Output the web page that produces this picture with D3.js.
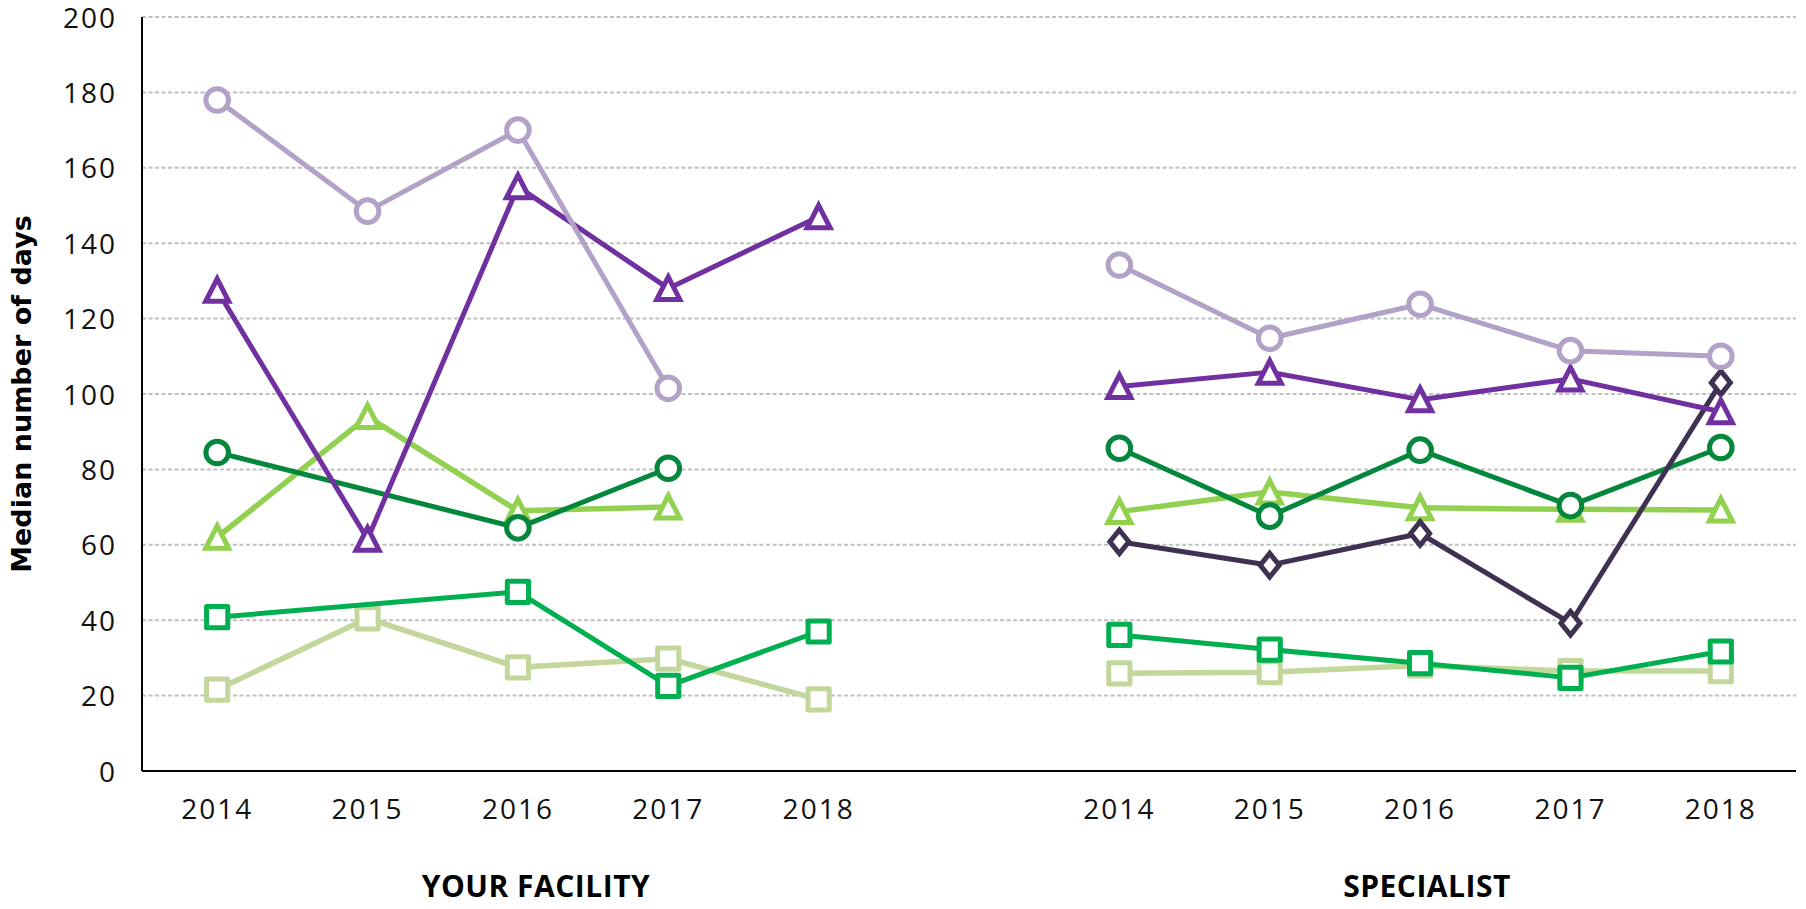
<!DOCTYPE html>
<html>
<head>
<meta charset="utf-8">
<script src="https://cdn.jsdelivr.net/npm/d3@7"></script>
<style>
  html, body { margin: 0; padding: 0; background: #fff; }
  svg { display: block; }
</style>
</head>
<body>
<svg id="chart" width="1806" height="909"></svg>
<script>
// Panels and categories
const groups = ["YOUR FACILITY", "SPECIALIST"];
const years = ["2014", "2015", "2016", "2017", "2018"];
const yTicks = [0, 20, 40, 60, 80, 100, 120, 140, 160, 180, 200];

// Median number of days, facility years first then specialist years (null = no value)
const lightPurpleCircle = [178, 148.5, 170, 101.5, null, 134.2, 114.8, 123.8, 111.5, 110];
const purpleTriangle    = [127.5, 61.5, 155, 128, 147, 102, 105.8, 98.5, 104, 95.3];
const lightGreenTri     = [62, 94, 69, 70, null, 68.8, 74, 69.8, 69.4, 69.2];
const darkGreenCircle   = [84.5, null, 64.5, 80.3, null, 85.6, 67.6, 85.1, 70.4, 85.8];
const greenSquare       = [40.8, null, 47.5, 22.6, 37, 36.1, 32.2, 28.6, 24.7, 31.7];
const paleGreenSquare   = [21.6, 40.5, 27.5, 29.8, 19, 25.9, 26.2, 28, 26.5, 26.5];
const darkDiamond       = [null, null, null, null, null, 60.8, 54.6, 63, 39.2, 103];

// Drawing order (bottom to top)
const seriesList = [
  { values: paleGreenSquare,   color: "#c3d69b", shape: "square",   width: 5.5 },
  { values: greenSquare,       color: "#00b050", shape: "square",   width: 5 },
  { values: lightGreenTri,     color: "#92d050", shape: "triangle", width: 5.5 },
  { values: darkGreenCircle,   color: "#04873c", shape: "circle",   width: 5 },
  { values: darkDiamond,       color: "#3f3151", shape: "diamond",  width: 5 },
  { values: purpleTriangle,    color: "#7030a0", shape: "triangle", width: 5 },
  { values: lightPurpleCircle, color: "#b3a2c7", shape: "circle",   width: 5 }
];

const svg = d3.select("#chart");
const plotLeft = 142, plotRight = 1796, plotTop = 17, plotBottom = 771;

// One band per year in each panel, with an empty band between the panels
const keys = [];
groups.forEach((g, gi) => {
  if (gi > 0) keys.push("gap" + gi);
  years.forEach(yr => keys.push(g + "|" + yr));
});
const x = d3.scaleBand().domain(keys).range([plotLeft, plotRight]).padding(0);
const cx = k => x(k) + x.bandwidth() / 2;
const y = d3.scaleLinear().domain([0, 200]).range([plotBottom, plotTop]);

// Gridlines
svg.append("g")
  .selectAll("line")
  .data(yTicks.filter(t => t > 0))
  .join("line")
  .attr("x1", plotLeft).attr("x2", plotRight)
  .attr("y1", d => y(d)).attr("y2", d => y(d))
  .attr("stroke", "#c0c0c0")
  .attr("stroke-width", 2)
  .attr("stroke-dasharray", "4,2.5");

// Y axis
const yAxis = svg.append("g")
  .attr("transform", `translate(${plotLeft},0)`)
  .call(d3.axisLeft(y).tickValues(yTicks).tickSize(0).tickPadding(25).tickFormat(d3.format("d")));
yAxis.select(".domain").remove();
yAxis.selectAll("text")
  .attr("font-family", "'Open Sans', sans-serif")
  .attr("font-size", 28)
  .attr("letter-spacing", 2)
  .attr("fill", "#111")
  .attr("dy", "0.36em");

// X axis labels
const xAxis = svg.append("g")
  .attr("transform", `translate(0,${plotBottom})`)
  .call(d3.axisBottom(x)
    .tickValues(keys.filter(k => !k.startsWith("gap")))
    .tickSize(0)
    .tickFormat(k => k.split("|")[1]));
xAxis.select(".domain").remove();
xAxis.selectAll("text")
  .attr("font-family", "'Open Sans', sans-serif")
  .attr("font-size", 28)
  .attr("letter-spacing", 2)
  .attr("fill", "#111")
  .attr("y", 47.5)
  .attr("dy", 0);

// Axis lines
svg.append("line")
  .attr("x1", plotLeft).attr("x2", plotLeft).attr("y1", y(200)).attr("y2", plotBottom)
  .attr("stroke", "#000").attr("stroke-width", 2);
svg.append("line")
  .attr("x1", plotLeft).attr("x2", plotRight).attr("y1", plotBottom).attr("y2", plotBottom)
  .attr("stroke", "#000").attr("stroke-width", 2);

// Panel labels
const panelCenters = [536, 1427];
svg.append("g")
  .selectAll("text")
  .data(groups)
  .join("text")
  .attr("x", (d, i) => panelCenters[i])
  .attr("y", 896.5)
  .attr("text-anchor", "middle")
  .attr("font-family", "'Open Sans', sans-serif")
  .attr("font-weight", 700)
  .attr("font-size", 30)
  .attr("letter-spacing", 0.5)
  .attr("fill", "#000")
  .text(d => d);

// Y axis title
svg.append("text")
  .attr("transform", `translate(31,${(plotTop + plotBottom) / 2}) rotate(-90)`)
  .attr("text-anchor", "middle")
  .attr("font-family", "'DejaVu Sans', sans-serif")
  .attr("font-weight", 700)
  .attr("font-size", 27)
  .attr("fill", "#000")
  .text("Median number of days");

// Marker shapes (outline only, white fill)
function markerPath(shape) {
  const p = d3.path();
  if (shape === "circle") {
    p.arc(0, 0, 11.3, 0, 2 * Math.PI);
  } else if (shape === "square") {
    p.rect(-10.6, -10.6, 21.2, 21.2);
  } else if (shape === "triangle") {
    p.moveTo(0, -11.5); p.lineTo(11.5, 11); p.lineTo(-11.5, 11); p.closePath();
  } else if (shape === "diamond") {
    p.moveTo(0, -11.8); p.lineTo(9.5, 0); p.lineTo(0, 11.8); p.lineTo(-9.5, 0); p.closePath();
  }
  return p.toString();
}

const line = d3.line().x(d => cx(d.key)).y(d => y(d.v));

seriesList.forEach(s => {
  const g = svg.append("g");
  groups.forEach((grp, gi) => {
    const pts = years.map((yr, i) => ({ key: grp + "|" + yr, v: s.values[gi * years.length + i] }))
      .filter(d => d.v != null);
    if (!pts.length) return;
    g.append("path")
      .datum(pts)
      .attr("d", line)
      .attr("fill", "none")
      .attr("stroke", s.color)
      .attr("stroke-width", s.width)
      .attr("stroke-linejoin", "round");
    g.selectAll(null)
      .data(pts)
      .join("path")
      .attr("transform", d => `translate(${cx(d.key)},${y(d.v)})`)
      .attr("d", markerPath(s.shape))
      .attr("fill", "#fff")
      .attr("stroke", s.color)
      .attr("stroke-width", 5)
      .attr("stroke-linejoin", (s.shape === "triangle" || s.shape === "diamond") ? "miter" : "round")
      .attr("stroke-miterlimit", 10);
  });
});
</script>
</body>
</html>
